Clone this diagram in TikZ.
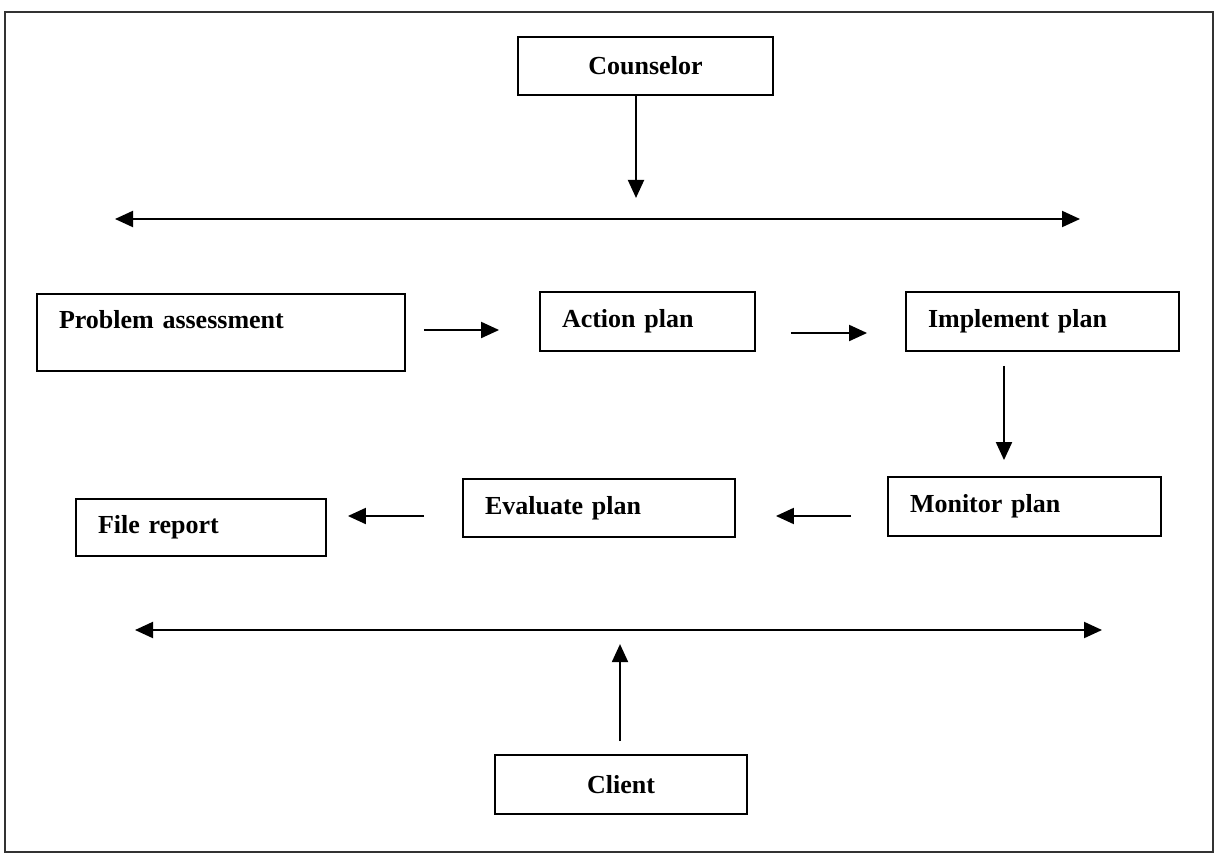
\documentclass[tikz,border=0pt]{standalone}
\usepackage{fontspec}
\setmainfont{Liberation Serif}
\usetikzlibrary{arrows.meta,calc}
\tikzset{
  box/.style={draw, line width=1.4pt, inner sep=0pt, font=\fontsize{19.5}{23}\selectfont\bfseries},
  lbox/.style={box, align=left, inner xsep=16.5pt},
  arr/.style={line width=1.5pt, -{Triangle[length=13.5pt,width=12pt]}},
  darr/.style={line width=1.5pt, {Triangle[length=13.5pt,width=12pt]}-{Triangle[length=13.5pt,width=12pt]}},
  frame/.style={line width=1.5pt, draw=black!80}
}
\begin{document}
\begin{tikzpicture}[x=0.75pt,y=-0.75pt]
\useasboundingbox (0,0) rectangle (1216,856);
\fill[white] (0,0) rectangle (1216,856);
\draw[frame] (5,12) rectangle (1213,852);

\node[box, minimum width=191.25pt, minimum height=43.5pt] (C) at (645.5,66) {Counselor};
\node[lbox, text width=243pt, minimum width=276pt, minimum height=57.75pt, text depth=19pt] (P) at (221,332.5) {Problem assessment};
\node[lbox, text width=128.25pt, minimum width=161.25pt, minimum height=44.25pt] (A) at (647.5,321.5) {Action plan};
\node[lbox, text width=171.75pt, minimum width=204.75pt, minimum height=44.25pt] (I) at (1042.5,321.5) {Implement plan};
\node[lbox, text width=171.75pt, minimum width=204.75pt, minimum height=44.25pt] (M) at (1024.5,506.5) {Monitor plan};
\node[lbox, text width=171pt, minimum width=204pt, minimum height=43.5pt] (E) at (599,508) {Evaluate plan};
\node[lbox, text width=154.5pt, minimum width=187.5pt, minimum height=42.75pt] (F) at (201,527.5) {File report};
\node[box, minimum width=189pt, minimum height=44.25pt] (K) at (621,784.5) {Client};

\coordinate (tl) at (115,219);
\coordinate (tr) at (1080,219);
\coordinate (bl) at (135,630);
\coordinate (br) at (1102,630);

\draw[arr] ($(C.south)+(-9.5,0)$) -- ($(C.south)+(-9.5,102)$);
\draw[darr] (tl) -- (tr);
\draw[arr] ($(P.east)+(18,-2.5)$) -- ($(A.west)+(-40,8.5)$);
\draw[arr] ($(A.east)+(35,11.5)$) -- ($(I.west)+(-38,11.5)$);
\draw[arr] ($(I.south)+(-38.5,14)$) -- ($(M.north)+(-20.5,-16)$);
\draw[arr] ($(M.west)+(-36,9.5)$) -- ($(E.east)+(40,8)$);
\draw[arr] ($(E.west)+(-38,8)$) -- ($(F.east)+(21,-11.5)$);
\draw[darr] (bl) -- (br);
\draw[arr] ($(K.north)+(-1,-13)$) -- ($(K.north)+(-1,-110)$);
\end{tikzpicture}
\end{document}
